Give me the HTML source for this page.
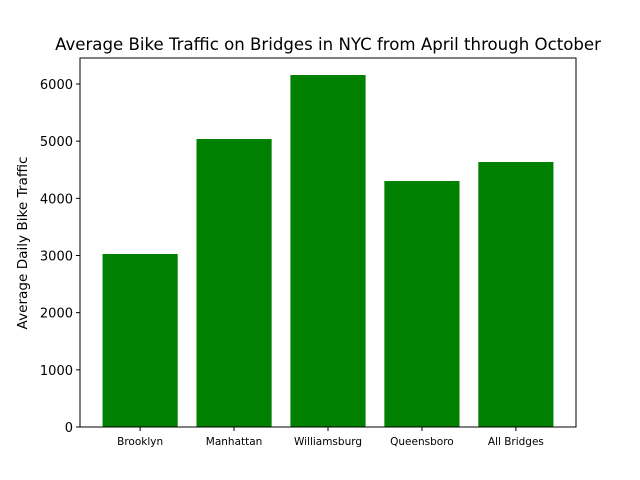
<!DOCTYPE html>
<html><head><meta charset="utf-8"><style>
body{margin:0;background:#fff;}
svg{display:block;font-family:"DejaVu Sans","Liberation Sans",sans-serif;}
</style></head><body>
<svg id="chart" width="640" height="480" viewBox="0 0 640 480" xmlns="http://www.w3.org/2000/svg">
<rect width="640" height="480" fill="#fff"/>
<text x="328" y="50" font-size="16.6" text-anchor="middle">Average Bike Traffic on Bridges in NYC from April through October</text>
<text x="0" y="0" font-size="13.6" text-anchor="middle" transform="translate(27,243) rotate(-90)">Average Daily Bike Traffic</text>
<g id="bars"></g>
<g id="yticks"></g>
<g id="xticks"></g>
<rect x="80" y="58" width="496" height="369" fill="none" stroke="#000" stroke-width="1"/>
</svg>
<script>
const categories = ["Brooklyn","Manhattan","Williamsburg","Queensboro","All Bridges"];
const values = [3026, 5038, 6157, 4303, 4635];
const yTicks = [0,1000,2000,3000,4000,5000,6000];

const L=80,R=576,T=58,B=427;
const xMin=-0.64,xMax=4.64;
const pxPerY=343/6000;
function xs(v){return L+(v-xMin)/(xMax-xMin)*(R-L);}
function ys(v){return B-v*pxPerY;}
const NS="http://www.w3.org/2000/svg";
const bars=document.getElementById('bars'),yt=document.getElementById('yticks'),xt=document.getElementById('xticks');
categories.forEach((c,i)=>{
  const r=document.createElementNS(NS,'rect');
  
  
  const x0=xs(i-0.4),x1=xs(i+0.4);
  r.setAttribute('x',x0);r.setAttribute('width',x1-x0);
  r.setAttribute('y',ys(values[i]));r.setAttribute('height',B-ys(values[i]));
  r.setAttribute('fill','#008000');
  bars.appendChild(r);
  const tk=document.createElementNS(NS,'line');
  
  
  tk.setAttribute('x1',xs(i));tk.setAttribute('x2',xs(i));tk.setAttribute('y1',B);tk.setAttribute('y2',B+4);tk.setAttribute('stroke','#000');
  xt.appendChild(tk);
  const t=document.createElementNS(NS,'text');
  
  
  t.setAttribute('x',xs(i));t.setAttribute('y',B+18);t.setAttribute('font-size','10.5');t.setAttribute('text-anchor','middle');
  t.textContent=c;xt.appendChild(t);
});
yTicks.forEach(v=>{
  const tk=document.createElementNS(NS,'line');
  
  
  tk.setAttribute('x1',L-4);tk.setAttribute('x2',L);tk.setAttribute('y1',ys(v));tk.setAttribute('y2',ys(v));tk.setAttribute('stroke','#000');
  yt.appendChild(tk);
  const t=document.createElementNS(NS,'text');
  
  
  t.setAttribute('x',L-7);t.setAttribute('y',ys(v)+5);t.setAttribute('font-size','13');t.setAttribute('text-anchor','end');
  t.textContent=v;yt.appendChild(t);
});
</script>
</body></html>
